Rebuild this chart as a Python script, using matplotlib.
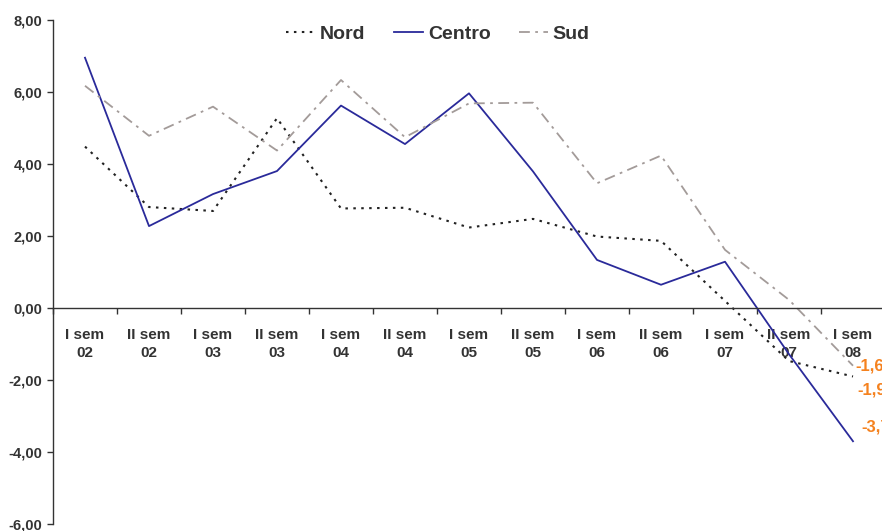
import matplotlib
matplotlib.use("Agg")
import matplotlib.pyplot as plt
import numpy as np

# Half-year periods and regional series
periodi = ["I sem\n02", "II sem\n02", "I sem\n03", "II sem\n03", "I sem\n04", "II sem\n04",
           "I sem\n05", "II sem\n05", "I sem\n06", "II sem\n06", "I sem\n07", "II sem\n07",
           "I sem\n08"]
nord = [4.49, 2.81, 2.70, 5.28, 2.77, 2.79, 2.24, 2.48, 1.99, 1.87, 0.20, -1.47, -1.90]
centro = [6.96, 2.28, 3.17, 3.81, 5.63, 4.56, 5.97, 3.80, 1.34, 0.65, 1.29, -1.28, -3.70]
sud = [6.18, 4.79, 5.60, 4.38, 6.34, 4.75, 5.69, 5.71, 3.47, 4.24, 1.62, 0.23, -1.60]
y_ticks = [-6, -4, -2, 0, 2, 4, 6, 8]

plt.rcParams['font.family'] = ['Liberation Sans', 'DejaVu Sans']
TXT = '#333333'
ORANGE = '#F5821F'

W, H = 882, 531
fig = plt.figure(figsize=(W / 100, H / 100), dpi=100)
# axis spans from x=53px to 885px (slightly wider than the canvas)
ax = fig.add_axes([53 / W, (H - 524) / H, (885 - 53) / W, (524 - 20.3) / H])

x = np.arange(len(periodi))
l_nord, = ax.plot(x, nord, color='#222222', lw=1.5, linestyle=(0, (1.2, 2.6)),
                  dash_capstyle='butt', label='Nord')
l_centro, = ax.plot(x, centro, color='#2A2A9A', lw=1.3, label='Centro')
l_sud, = ax.plot(x, sud, color='#A39B99', lw=1.3, linestyle=(0, (6, 3, 1.5, 3)),
                 label='Sud')

ax.set_xlim(-0.5, len(periodi) - 0.5)
ax.set_ylim(-6, 8)

for s in ['top', 'right']:
    ax.spines[s].set_visible(False)
ax.spines['bottom'].set_position(('data', 0))
for s in ['left', 'bottom']:
    ax.spines[s].set_color('#333333')
    ax.spines[s].set_linewidth(1.0)

ax.set_yticks(y_ticks)
ax.set_yticklabels([f"{v:.2f}".replace('.', ',') for v in y_ticks])
ax.tick_params(axis='y', direction='out', length=4, width=1, color='#333333',
               labelsize=10.5, labelcolor=TXT, pad=3.5)
for t in ax.get_yticklabels():
    t.set_fontweight('bold')

# labels at category centers, tick marks at category boundaries
ax.set_xticks(x)
ax.set_xticklabels(periodi, fontsize=11, fontweight='bold', color=TXT, linespacing=1.4)
ax.tick_params(axis='x', which='major', length=0, pad=14)
ax.set_xticks(np.arange(-0.5, len(periodi), 1.0), minor=True)
ax.tick_params(axis='x', which='minor', direction='out', length=4, width=1, color='#333333')

# value labels for the last period
last = len(periodi) - 1
for vals, off in [(sud, (1.5, 0)), (nord, (3, -10)), (centro, (6, 10))]:
    ax.annotate(f"{vals[last]:.1f}".replace('.', ','), (x[last], vals[last]),
                xytext=off, textcoords='offset points', ha='left', va='center',
                fontsize=12, fontweight='bold', color=ORANGE, annotation_clip=False)

leg = fig.legend(handles=[l_nord, l_centro, l_sud], loc='center',
                 bbox_to_anchor=(438 / W, 1 - 34 / H), ncol=3, frameon=False,
                 prop={'weight': 'bold', 'size': 14}, handlelength=1.5,
                 handletextpad=0.25, columnspacing=1.45)
for t in leg.get_texts():
    t.set_color(TXT)

fig.savefig('out.png', dpi=100)
